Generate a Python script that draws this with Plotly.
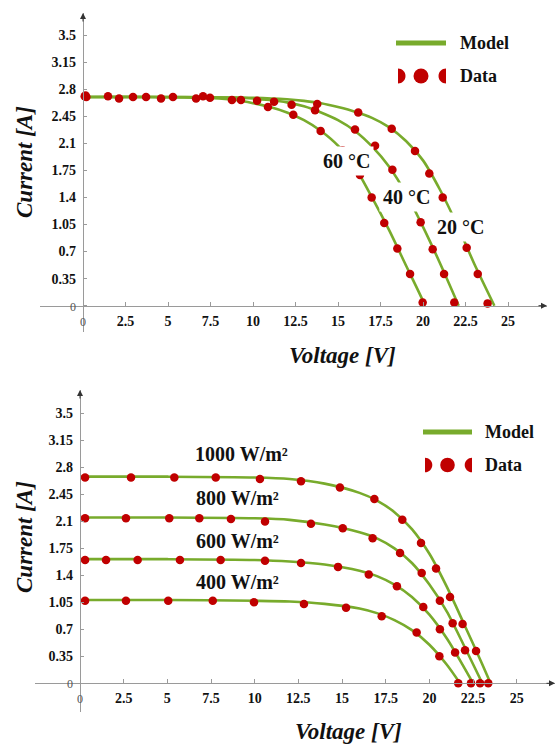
import plotly.graph_objects as go

# ---------------- data: temperature panel (top) ----------------
t60_v = [0.10, 2.12, 4.59, 6.65, 8.76, 10.88, 12.37, 13.98, 15.27, 16.29, 16.98, 17.72, 18.49, 19.24, 19.98]
t60_i = [2.71, 2.68, 2.68, 2.68, 2.66, 2.57, 2.47, 2.26, 2.01, 1.69, 1.40, 1.07, 0.74, 0.41, 0.04]
t40_v = [0.20, 2.94, 5.29, 7.06, 9.29, 11.24, 12.27, 13.65, 16.00, 17.18, 18.20, 19.86, 20.57, 21.24, 21.84]
t40_i = [2.70, 2.70, 2.70, 2.71, 2.66, 2.64, 2.60, 2.53, 2.28, 2.07, 1.76, 1.08, 0.73, 0.41, 0.04]
t20_v = [0.15, 1.47, 3.71, 7.47, 10.24, 13.78, 16.19, 18.16, 19.53, 20.37, 21.16, 22.57, 23.22, 23.80]
t20_i = [2.72, 2.71, 2.70, 2.69, 2.65, 2.61, 2.50, 2.29, 2.00, 1.71, 1.40, 0.75, 0.41, 0.03]

m60_v = [0, 4, 8, 9, 10, 11, 12, 13, 14, 15, 16, 17, 18, 19, 20, 20.1]
m60_i = [2.70, 2.70, 2.68, 2.66, 2.62, 2.57, 2.50, 2.40, 2.26, 2.07, 1.79, 1.40, 0.98, 0.52, 0.06, 0]
m40_v = [0, 5, 9, 10, 11, 12, 13, 14, 15, 16, 17, 18, 19, 20, 21, 22.1]
m40_i = [2.70, 2.70, 2.69, 2.68, 2.66, 2.63, 2.58, 2.50, 2.40, 2.26, 2.06, 1.80, 1.45, 1.02, 0.55, 0]
m20_v = [0, 6, 10, 12, 13, 14, 15, 16, 17, 18, 19, 20, 21, 22, 23, 24.2]
m20_i = [2.70, 2.70, 2.69, 2.67, 2.65, 2.62, 2.57, 2.51, 2.43, 2.31, 2.13, 1.88, 1.50, 1.05, 0.55, 0]

temp_labels = ["60 °C", "40 °C", "20 °C"]
temp_label_v = [15.5, 19.0, 22.2]
temp_label_i = [1.87, 1.41, 1.02]

# ---------------- data: irradiance panel (bottom) ----------------
g1000_v = [0.29, 2.92, 5.40, 7.77, 10.30, 12.65, 14.88, 16.85, 18.45, 19.52, 20.38, 21.18, 21.90, 22.67, 23.37]
g1000_i = [2.67, 2.67, 2.67, 2.67, 2.65, 2.62, 2.54, 2.39, 2.12, 1.82, 1.49, 1.12, 0.77, 0.42, 0.00]
g800_v = [0.29, 2.63, 5.11, 6.83, 8.64, 10.59, 13.22, 15.04, 16.75, 18.32, 19.56, 20.60, 21.33, 22.04, 22.90]
g800_i = [2.14, 2.14, 2.14, 2.14, 2.13, 2.10, 2.07, 2.01, 1.88, 1.69, 1.43, 1.07, 0.78, 0.43, 0.00]
g600_v = [0.29, 1.49, 3.30, 5.72, 8.05, 10.59, 12.65, 14.77, 16.53, 18.14, 19.65, 20.60, 21.47, 22.38]
g600_i = [1.60, 1.60, 1.60, 1.60, 1.60, 1.59, 1.56, 1.51, 1.41, 1.26, 0.99, 0.70, 0.40, 0.00]
g400_v = [0.29, 2.63, 5.05, 7.60, 9.96, 12.82, 15.23, 17.27, 19.27, 20.57, 21.65]
g400_i = [1.07, 1.07, 1.07, 1.07, 1.05, 1.03, 0.98, 0.87, 0.66, 0.35, 0.00]

mg1000_v = [0, 5, 10, 12, 14, 16, 17, 18, 19, 20, 21, 22, 23, 23.5]
mg1000_i = [2.68, 2.68, 2.67, 2.65, 2.59, 2.47, 2.37, 2.22, 2.00, 1.68, 1.25, 0.76, 0.26, 0]
mg800_v = [0, 5, 10, 12, 14, 16, 17, 18, 19, 20, 21, 22, 23.03]
mg800_i = [2.15, 2.15, 2.14, 2.12, 2.06, 1.96, 1.88, 1.75, 1.56, 1.28, 0.93, 0.48, 0]
mg600_v = [0, 5, 10, 12, 14, 16, 17, 18, 19, 20, 21, 22, 22.5]
mg600_i = [1.61, 1.61, 1.60, 1.58, 1.54, 1.46, 1.39, 1.28, 1.12, 0.89, 0.58, 0.20, 0]
mg400_v = [0, 5, 10, 12, 14, 16, 17, 18, 19, 20, 21, 21.75]
mg400_i = [1.08, 1.08, 1.07, 1.06, 1.03, 0.97, 0.91, 0.82, 0.69, 0.50, 0.24, 0]

irr_labels = ["1000 W/m²", "800 W/m²", "600 W/m²", "400 W/m²"]
irr_label_v = [6.47, 6.53, 6.53, 6.53]
irr_label_i = [2.97, 2.40, 1.85, 1.31]

y_ticks = [0, 0.35, 0.7, 1.05, 1.4, 1.75, 2.1, 2.45, 2.8, 3.15, 3.5]
y_ticktext = ["0", "0.35", "0.7", "1.05", "1.4", "1.75", "2.1", "2.45", "2.8", "3.15", "3.5"]
x_ticks = [0, 2.5, 5, 7.5, 10, 12.5, 15, 17.5, 20, 22.5, 25]
x_ticktext = ["0", "2.5", "5", "7.5", "10", "12.5", "15", "17.5", "20", "22.5", "25"]

# ---------------- styling / layout ----------------
W, H = 559, 747
GREEN = "#78ab2c"
RED = "#c00000"
AXC = "#9a9a9a"
TXT = "#111111"
SERIF = "Liberation Serif"


def px(x):
    return x / W


def py(y):
    return 1 - y / H


# pixel geometry of each panel: plot box, origin and scale
TOP = dict(x0=40, x1=547, y0=13, y1=332, ox=83, oy=305.7, sx=17.0, sy=77.3)
BOT = dict(x0=35, x1=555, y0=390, y1=711.7, ox=80, oy=683.3, sx=17.47, sy=77.1)

fig = go.Figure()


def add_model(v, i, xa, ya):
    fig.add_trace(go.Scatter(x=v, y=i, mode="lines", xaxis=xa, yaxis=ya,
                             line=dict(color=GREEN, width=2.6, shape="spline", smoothing=0.8),
                             showlegend=False, hoverinfo="skip"))


def add_data(v, i, xa, ya, size=8.5):
    fig.add_trace(go.Scatter(x=v, y=i, mode="markers", xaxis=xa, yaxis=ya,
                             marker=dict(color=RED, size=size, line=dict(width=0)),
                             showlegend=False))


for mv, mi in [(m60_v, m60_i), (m40_v, m40_i), (m20_v, m20_i)]:
    add_model(mv, mi, "x", "y")
for dv, di in [(t60_v, t60_i), (t40_v, t40_i), (t20_v, t20_i)]:
    add_data(dv, di, "x", "y")
for mv, mi in [(mg1000_v, mg1000_i), (mg800_v, mg800_i), (mg600_v, mg600_i), (mg400_v, mg400_i)]:
    add_model(mv, mi, "x2", "y2")
for dv, di in [(g1000_v, g1000_i), (g800_v, g800_i), (g600_v, g600_i), (g400_v, g400_i)]:
    add_data(dv, di, "x2", "y2")

zero_style = "<span style='font-weight:normal;font-size:12px;color:#555'>0</span>"
ytt = [zero_style] + y_ticktext[1:]
xtt = [zero_style] + x_ticktext[1:]


def axes(P):
    xr = [(P["x0"] - P["ox"]) / P["sx"], (P["x1"] - P["ox"]) / P["sx"]]
    yr = [(P["oy"] - P["y1"]) / P["sy"], (P["oy"] - P["y0"]) / P["sy"]]
    tickfont = dict(family=SERIF, size=14, color=TXT, weight="bold")
    xa = dict(domain=[px(P["x0"]), px(P["x1"])], range=xr, anchor="free", position=py(P["oy"]),
              showgrid=False, zeroline=False, showline=True, linecolor=AXC, linewidth=1.2,
              ticks="inside", ticklen=4, tickcolor=AXC, tickvals=x_ticks, ticktext=xtt,
              tickfont=tickfont, ticklabelstandoff=2, fixedrange=True)
    ya = dict(domain=[py(P["y1"]), py(P["y0"])], range=yr, anchor="free", position=px(P["ox"]),
              showgrid=False, zeroline=False, showline=True, linecolor=AXC, linewidth=1.2,
              ticks="inside", ticklen=3, tickcolor=AXC, tickvals=y_ticks, ticktext=ytt,
              tickfont=tickfont, ticklabelstandoff=4, fixedrange=True)
    return xa, ya


xa1, ya1 = axes(TOP)
xa2, ya2 = axes(BOT)

annotations = []
shapes = []

# curve labels
for t, v, i in zip(temp_labels, temp_label_v, temp_label_i):
    annotations.append(dict(x=v, y=i, xref="x", yref="y", text="<b>" + t + "</b>", showarrow=False,
                            xanchor="center", yanchor="middle",
                            font=dict(family=SERIF, size=20, color=TXT),
                            bgcolor="white", borderpad=3))
for t, v, i in zip(irr_labels, irr_label_v, irr_label_i):
    annotations.append(dict(x=v, y=i, xref="x2", yref="y2", text="<b>" + t + "</b>", showarrow=False,
                            xanchor="left", yanchor="middle",
                            font=dict(family=SERIF, size=20, color=TXT)))

# axis titles and arrows
TITLE_FONT = dict(family=SERIF, size=23, color=TXT, weight="bold", style="italic")
for P, ycen, xcen, yv in [(TOP, 162, 342, 355), (BOT, 537, 348, 731)]:
    annotations.append(dict(x=px(24), y=py(ycen), xref="paper", yref="paper",
                            text="Current [A]",
                            textangle=-90, showarrow=False, xanchor="center", yanchor="middle",
                            font=TITLE_FONT))
    annotations.append(dict(x=px(xcen), y=py(yv), xref="paper", yref="paper",
                            text="Voltage [V]",
                            showarrow=False, xanchor="center", yanchor="middle",
                            font=TITLE_FONT))
    # arrow heads
    annotations.append(dict(x=px(P["ox"]), y=py(P["y0"]), xref="paper", yref="paper", text="",
                            showarrow=True, ax=0, ay=10, arrowhead=2, arrowsize=1.2,
                            arrowwidth=1, arrowcolor="#333"))
    annotations.append(dict(x=px(P["x1"]), y=py(P["oy"]), xref="paper", yref="paper", text="",
                            showarrow=True, ax=-10, ay=0, arrowhead=2, arrowsize=1.2,
                            arrowwidth=1, arrowcolor="#333"))

# hand-made legends
K = 0.5523


def half_circle(xf, yc, r, direction):
    d = direction * r
    pts = [(xf, yc - r), (xf + K * d, yc - r), (xf + d, yc - K * r), (xf + d, yc),
           (xf + d, yc + K * r), (xf + K * d, yc + r), (xf, yc + r)]
    p = [(px(a), py(b)) for a, b in pts]
    path = "M {},{} C {},{} {},{} {},{} C {},{} {},{} {},{} Z".format(
        p[0][0], p[0][1], p[1][0], p[1][1], p[2][0], p[2][1], p[3][0], p[3][1],
        p[4][0], p[4][1], p[5][0], p[5][1], p[6][0], p[6][1])
    return dict(type="path", xref="paper", yref="paper", path=path,
                fillcolor=RED, line=dict(width=0))


for lx0, lx1, ly_model, ly_data, tx, r in [(396, 446, 43, 76, 458, 7.5), (423, 472, 432, 465, 483, 7.3)]:
    shapes.append(dict(type="line", xref="paper", yref="paper", x0=px(lx0), x1=px(lx1),
                       y0=py(ly_model), y1=py(ly_model), line=dict(color=GREEN, width=5)))
    cx = (lx0 + lx1) / 2
    shapes.append(dict(type="circle", xref="paper", yref="paper", x0=px(cx - r), x1=px(cx + r),
                       y0=py(ly_data + r), y1=py(ly_data - r), fillcolor=RED, line=dict(width=0)))
    shapes.append(half_circle(lx0 + 2, ly_data, r, 1))
    shapes.append(half_circle(lx1, ly_data, r, -1))
    annotations.append(dict(x=px(tx), y=py(ly_model), xref="paper", yref="paper", text="<b>Model</b>",
                            xanchor="left", yanchor="middle", showarrow=False,
                            font=dict(family=SERIF, size=18, color=TXT)))
    annotations.append(dict(x=px(tx), y=py(ly_data), xref="paper", yref="paper", text="<b>Data</b>",
                            xanchor="left", yanchor="middle", showarrow=False,
                            font=dict(family=SERIF, size=18, color=TXT)))

fig.update_layout(width=W, height=H, autosize=False, margin=dict(l=0, r=0, t=0, b=0),
                  paper_bgcolor="white", plot_bgcolor="white", showlegend=False,
                  xaxis=xa1, yaxis=ya1, xaxis2=xa2, yaxis2=ya2,
                  annotations=annotations, shapes=shapes)

fig.write_html("out.html")
